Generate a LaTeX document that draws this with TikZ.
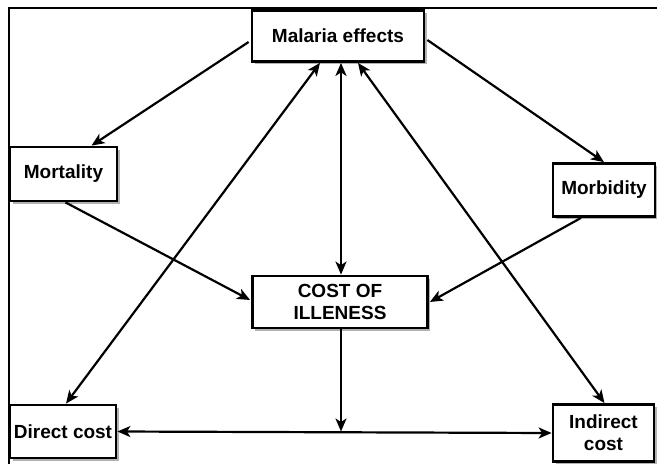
\documentclass[tikz,border=0pt]{standalone}
\usepackage{fontspec}
\setmainfont{Liberation Sans}
\usetikzlibrary{arrows.meta,shadows,calc}
\begin{document}
\begin{tikzpicture}[x=1pt,y=-1pt,
  box/.style={draw=black,line width=2.8pt,fill=white,inner sep=0pt,align=center,
    font=\fontsize{19}{22}\selectfont\bfseries,
    drop shadow={shadow xshift=2.5pt,shadow yshift=-2.5pt,opacity=0.3,fill=black}},
  tip/.tip={Stealth[length=13pt,width=11pt,inset=3.5pt]},
  conn/.style={line width=2.2pt,-tip},
  dconn/.style={line width=2.2pt,tip-tip}]
\useasboundingbox (0,0) rectangle (657,464);
\draw[line width=1.6pt] (9,464) -- (9,8) -- (657,8);
\node[box,minimum width=172pt,minimum height=51pt] (mal) at (338,36) {Malaria effects};
\node[box,minimum width=107pt,minimum height=54pt] (mort) at (63.5,174) {Mortality};
\node[box,minimum width=102pt,minimum height=53pt] (morb) at (604,190) {Morbidity};
\node[box,minimum width=175pt,minimum height=52pt] (cost) at (340,302) {COST OF\\ILLENESS};
\node[box,minimum width=106pt,minimum height=53pt] (dir) at (63,431.5) {Direct cost};
\node[box,minimum width=101pt,minimum height=57pt] (ind) at (603.5,433) {Indirect\\cost};
\coordinate (jn) at (cost.south |- dir.east);
\draw[conn] ($(mal.west)+(-2,6)$) -- ($(mort.north)+(28,0)$);
\draw[conn] ($(mal.east)+(2,4)$) -- (morb.north);
\draw[conn] ($(mort.south)+(2,0)$) -- ($(cost.west)+(-1,-2)$);
\draw[conn] ($(morb.south)+(-23,0)$) -- ($(cost.east)+(1,0)$);
\draw[dconn] ($(mal.south)+(3,0)$) -- ($(cost.north)+(1,0)$);
\draw[dconn] ($(dir.north)+(3,0)$) -- ($(mal.south)+(-18,0)$);
\draw[dconn] ($(ind.north)+(1,0)$) -- ($(mal.south)+(20,0)$);
\draw[conn] ($(cost.south)+(1,0)$) -- ($(jn)+(1,0)$);
\draw[dconn] (dir.east) -- (ind.west);
\end{tikzpicture}
\end{document}
